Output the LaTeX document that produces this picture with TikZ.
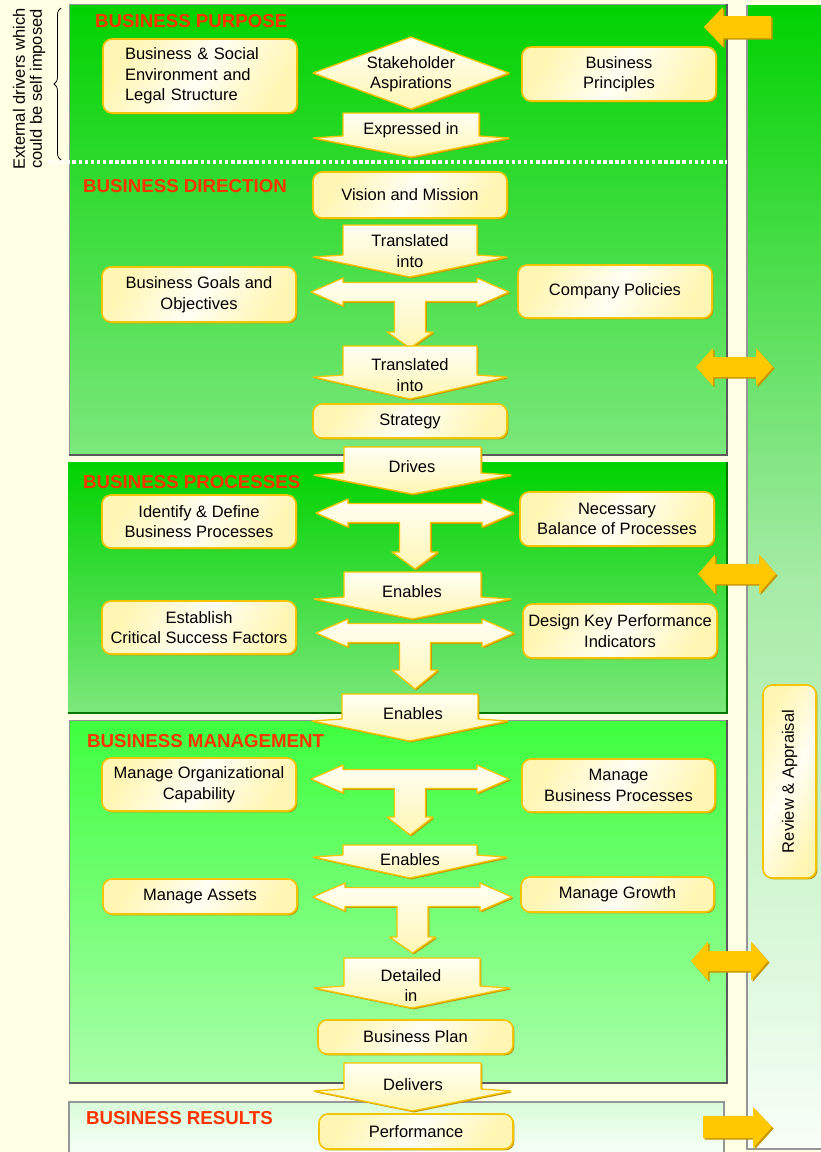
\documentclass[tikz,border=0pt]{standalone}
\usepackage{fontspec}
\setmainfont{Liberation Sans}
\usetikzlibrary{shadows,decorations.pathreplacing}

\definecolor{pagecream}{RGB}{255,255,228}
\definecolor{gold}{RGB}{245,196,0}
\definecolor{goldshade}{RGB}{196,150,0}
\definecolor{creamlight}{RGB}{255,255,244}
\definecolor{creamdeep}{RGB}{255,246,180}
\definecolor{titlered}{RGB}{255,51,0}
\definecolor{orangearrow}{RGB}{255,200,0}
\definecolor{orangeshade}{RGB}{200,150,0}
\definecolor{grnA}{RGB}{0,210,0}
\definecolor{grnB}{RGB}{124,232,124}
\definecolor{grnC}{RGB}{62,255,62}
\definecolor{grnD}{RGB}{170,255,170}
\definecolor{grnE}{RGB}{218,252,218}
\definecolor{grnF}{RGB}{250,255,250}
\definecolor{stripmid}{RGB}{165,235,165}
\definecolor{stripend}{RGB}{248,255,248}
\definecolor{panelline}{RGB}{150,150,150}
\definecolor{paneldark}{RGB}{90,90,90}
\definecolor{greenline}{RGB}{0,120,0}

\newcommand\dgboxfont{\fontsize{16.5}{20.5}\selectfont}
\newcommand\dgtitlefont{\bfseries\fontsize{18.7}{20}\selectfont}

\tikzset{
  cbox/.style={rounded corners=9pt, draw=gold, line width=1.6pt,
    left color=creamdeep, right color=creamdeep, middle color=creamlight,
    shading angle=60,
    text=black, font=\dgboxfont, align=center, inner sep=2pt,
    drop shadow={shadow xshift=1.4pt, shadow yshift=-1.4pt, fill=goldshade, opacity=1}},
  flowfill/.style={draw=gold, line width=1.3pt, line join=round,
    top color=creamlight, bottom color=creamdeep},
  flowshade/.style={fill=goldshade, xshift=1.4pt, yshift=-1.4pt},
  flowtext/.style={font=\dgboxfont, align=center, inner sep=0pt, text=black},
  sectitle/.style={font=\dgtitlefont, text=titlered, inner sep=0pt, anchor=west},
}

% downward block arrow: body left, body right, top, wing y, tip y
\newcommand\flowdown[5]{%
  \pgfmathsetmacro\fdC{(#1+#2)/2}%
  \fill[flowshade] (#1,#3) -- (#2,#3) -- (#2,#4-2) -- (#2+30,#4) -- (\fdC,#5) -- (#1-30,#4) -- (#1,#4-2) -- cycle;
  \path[flowfill] (#1,#3) -- (#2,#3) -- (#2,#4-2) -- (#2+30,#4) -- (\fdC,#5) -- (#1-30,#4) -- (#1,#4-2) -- cycle;
}

% two-way arrow with a downward stem: left tip, right tip, centre y, stem bottom, stem tip
\newcommand\teearrow[5]{%
  \pgfmathsetmacro\teC{(#1+#2)/2}%
  \pgfmathsetmacro\teL{#1+32}%
  \pgfmathsetmacro\teR{#2-32}%
  \pgfmathsetmacro\teA{#3-14}%
  \pgfmathsetmacro\teB{#3-9.5}%
  \pgfmathsetmacro\teD{#3+9.5}%
  \pgfmathsetmacro\teE{#3+14}%
  \pgfmathsetmacro\teSL{\teC-15.5}%
  \pgfmathsetmacro\teSR{\teC+15.5}%
  \pgfmathsetmacro\teHL{\teC-23}%
  \pgfmathsetmacro\teHR{\teC+23}%
  \fill[flowshade] (#1,#3) -- (\teL,\teA) -- (\teL,\teB) -- (\teR,\teB) -- (\teR,\teA) -- (#2,#3) -- (\teR,\teE) -- (\teR,\teD) -- (\teSR,\teD) -- (\teSR,#4) -- (\teHR,#4) -- (\teC,#5) -- (\teHL,#4) -- (\teSL,#4) -- (\teSL,\teD) -- (\teL,\teD) -- (\teL,\teE) -- cycle;
  \path[flowfill] (#1,#3) -- (\teL,\teA) -- (\teL,\teB) -- (\teR,\teB) -- (\teR,\teA) -- (#2,#3) -- (\teR,\teE) -- (\teR,\teD) -- (\teSR,\teD) -- (\teSR,#4) -- (\teHR,#4) -- (\teC,#5) -- (\teHL,#4) -- (\teSL,#4) -- (\teSL,\teD) -- (\teL,\teD) -- (\teL,\teE) -- cycle;
}

% orange two-headed arrow: left tip, right tip, centre y, head half height
\newcommand\biarrow[4]{%
  \pgfmathsetmacro\biL{#1+17}%
  \pgfmathsetmacro\biR{#2-17}%
  \fill[orangeshade, xshift=1.6pt, yshift=-1.6pt] (#1,#3) -- (\biL,#3-#4) -- (\biL,#3-10) -- (\biR,#3-10) -- (\biR,#3-#4) -- (#2,#3) -- (\biR,#3+#4) -- (\biR,#3+10) -- (\biL,#3+10) -- (\biL,#3+#4) -- cycle;
  \fill[orangearrow] (#1,#3) -- (\biL,#3-#4) -- (\biL,#3-10) -- (\biR,#3-10) -- (\biR,#3-#4) -- (#2,#3) -- (\biR,#3+#4) -- (\biR,#3+10) -- (\biL,#3+10) -- (\biL,#3+#4) -- cycle;
}

\begin{document}
\begin{tikzpicture}[x=1pt,y=-1pt]
\useasboundingbox (0,0) rectangle (820,1152);
\fill[pagecream] (0,0) rectangle (820,1152);

% ---- review strip on the right ----
\path[top color=grnA, bottom color=stripend, middle color=stripmid] (747,5) rectangle (822,1149);
\draw[panelline, line width=1.3pt] (747,5) -- (747,1149) -- (822,1149);

% ---- purpose / direction panel ----
\path[top color=grnA, bottom color=grnB] (69,4) rectangle (727,455);
\draw[panelline, line width=1pt] (69,455) -- (69,4) -- (727,4);
\draw[paneldark, line width=2pt] (727,4) -- (727,455) -- (69,455);
\draw[white, line width=3.5pt, dash pattern=on 3.5pt off 2.6pt] (48,162) -- (727,162);

% ---- processes panel ----
\path[top color=grnA, bottom color=grnB] (68,462) rectangle (727,713);
\draw[greenline, line width=1.6pt] (727,462) -- (727,713) -- (68,713);

% ---- management panel ----
\path[top color=grnC, bottom color=grnD] (69,720) rectangle (727,1083);
\draw[panelline, line width=1pt] (69,1083) -- (69,720) -- (727,720);
\draw[paneldark, line width=2pt] (727,720) -- (727,1083) -- (69,1083);

% ---- results panel ----
\path[top color=grnE, bottom color=grnF] (69,1102) rectangle (724,1160);
\draw[panelline, line width=1.2pt] (69,1160) -- (69,1102) -- (724,1102) -- (724,1160);

% ---- external drivers brace ----
\draw[black, line width=0.8pt, decorate, decoration={brace, amplitude=7pt}] (61,160) -- (61,8);
\node[rotate=90, align=center, font=\fontsize{16.5}{17}\selectfont, inner sep=0pt] (extdrivers) at (29,89)
  {External drivers which\\could be self imposed};

% ---- review links (orange arrows) ----
\fill[orangeshade, xshift=1.6pt, yshift=-1.6pt] (704,27) -- (723,7) -- (723,16) -- (771,16) -- (771,38) -- (723,38) -- (723,47) -- cycle;
\fill[orangearrow] (704,27) -- (723,7) -- (723,16) -- (771,16) -- (771,38) -- (723,38) -- (723,47) -- cycle;
\biarrow{696}{773}{367}{19}
\biarrow{698}{776}{574}{19.5}
\biarrow{691}{768}{961}{19.5}
\fill[orangeshade, xshift=1.6pt, yshift=-1.6pt] (703,1116) -- (753,1116) -- (753,1107) -- (772,1127) -- (753,1148) -- (753,1138) -- (703,1138) -- cycle;
\fill[orangearrow] (703,1116) -- (753,1116) -- (753,1107) -- (772,1127) -- (753,1148) -- (753,1138) -- (703,1138) -- cycle;

\node[cbox, rotate=90, minimum width=193pt, minimum height=53pt] (review) at (789.5,781.5) {Review \& Appraisal};

% ---- section titles ----
\node[sectitle] (tpurpose) at (95,21) {BUSINESS PURPOSE};
\node[sectitle] (tdirection) at (83,186) {BUSINESS DIRECTION};
\node[sectitle] (tprocesses) at (83,482) {BUSINESS PROCESSES};
\node[sectitle] (tmanagement) at (87,741) {BUSINESS MANAGEMENT};
\node[sectitle] (tresults) at (86,1118) {BUSINESS RESULTS};

% ---- business purpose ----
\node[cbox, minimum width=194pt, minimum height=74pt, text width=150pt, align=left, inner xsep=22pt] (bsenv) at (200,76)
  {Business \& Social\\Environment and\\Legal Structure};
\fill[flowshade] (313,73) -- (411,37) -- (509,73) -- (411,109) -- cycle;
\path[flowfill] (313,73) -- (411,37) -- (509,73) -- (411,109) -- cycle;
\node[flowtext] (stake) at (411,74) {Stakeholder\\Aspirations};
\node[cbox, minimum width=194pt, minimum height=54pt] (principles) at (619,74) {Business\\Principles};
\flowdown{343}{479}{113}{138}{157}
\node[flowtext] (expressed) at (411,130) {Expressed in};

% ---- business direction ----
\node[cbox, minimum width=194pt, minimum height=46pt] (vision) at (410,195) {Vision and Mission};
\flowdown{343}{477}{225}{257}{277}
\node[flowtext] (transA) at (410,251) {Translated\\into};
\teearrow{311}{509}{292}{332}{348}
\node[cbox, minimum width=194pt, minimum height=55pt] (goals) at (199,294.5) {Business Goals and\\Objectives};
\node[cbox, minimum width=194pt, minimum height=53pt] (policies) at (615,291.5) {Company Policies};
\flowdown{343}{477}{346}{377}{399}
\node[flowtext] (transB) at (410,375) {Translated\\into};
\node[cbox, minimum width=194pt, minimum height=34pt] (strategy) at (410,421) {Strategy};
\flowdown{344}{481}{447}{475}{494}
\node[flowtext] (drives) at (412,467) {Drives};

% ---- business processes ----
\teearrow{316}{514}{513}{552}{569}
\node[cbox, minimum width=194pt, minimum height=53pt] (identify) at (199,521.5) {Identify \& Define\\Business Processes};
\node[cbox, minimum width=194pt, minimum height=54pt] (balance) at (617,519) {Necessary\\Balance of Processes};
\flowdown{344}{481}{572}{599}{619}
\node[flowtext] (enablesA) at (412,592) {Enables};
\teearrow{316}{514}{633}{670}{689}
\node[cbox, minimum width=194pt, minimum height=53pt] (csf) at (199,627.5) {Establish\\Critical Success Factors};
\node[cbox, minimum width=194pt, minimum height=54pt] (kpi) at (620,631) {Design Key Performance\\Indicators};
\flowdown{342}{478}{694}{721}{741}
\node[flowtext] (enablesB) at (413,714) {Enables};

% ---- business management ----
\teearrow{311}{509}{779}{817}{835}
\node[cbox, minimum width=194pt, minimum height=53pt] (orgcap) at (199,784.5) {Manage Organizational\\Capability};
\node[cbox, minimum width=193pt, minimum height=53pt] (mbp) at (618.5,785.5) {Manage\\Business Processes};
\flowdown{343}{477}{845}{857}{878}
\node[flowtext] (enablesC) at (410,860) {Enables};
\teearrow{313}{512}{897}{937}{953}
\node[cbox, minimum width=194pt, minimum height=35pt] (assets) at (200,896.5) {Manage Assets};
\node[cbox, minimum width=193pt, minimum height=35pt] (growth) at (617.5,894.5) {Manage Growth};
\flowdown{344}{480}{958}{988}{1008}
\node[flowtext] (detailed) at (411,985.5) {Detailed\\in};
\node[cbox, minimum width=195pt, minimum height=34pt] (plan) at (415.5,1037) {Business Plan};
\flowdown{344}{481}{1063}{1091}{1111}
\node[flowtext] (delivers) at (413,1085) {Delivers};

% ---- business results ----
\node[cbox, minimum width=194pt, minimum height=35pt] (performance) at (416,1131.5) {Performance};

\end{tikzpicture}
\end{document}
